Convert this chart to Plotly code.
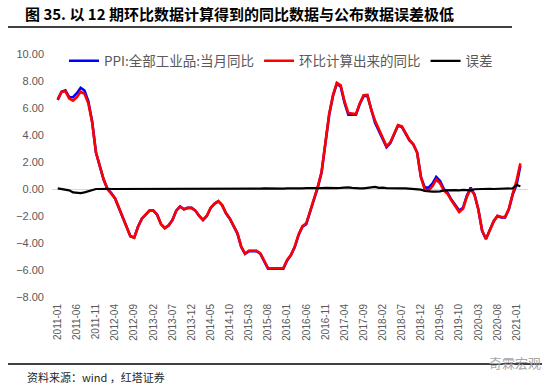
import plotly.graph_objects as go
import pandas as pd

# ---- data ----
months = [d.strftime("%Y-%m") for d in pd.date_range("2011-01-01", "2021-02-01", freq="MS")]

ppi_yoy = [
    6.6, 7.2, 7.3, 6.8, 6.8, 7.1, 7.5, 7.3, 6.5, 5.0, 2.7, 1.7,
    0.7, 0.0, -0.3, -0.7, -1.4, -2.1, -2.9, -3.5, -3.6, -2.8, -2.2, -1.9,
    -1.6, -1.6, -1.9, -2.6, -2.9, -2.7, -2.3, -1.6, -1.3, -1.5, -1.4, -1.4,
    -1.6, -2.0, -2.3, -2.0, -1.4, -1.1, -0.9, -1.2, -1.8, -2.2, -2.7, -3.3,
    -4.3, -4.8, -4.6, -4.6, -4.6, -4.8, -5.4, -5.9, -5.9, -5.9, -5.9, -5.9,
    -5.3, -4.9, -4.3, -3.4, -2.8, -2.6, -1.7, -0.8, 0.1, 1.2, 3.3, 5.5,
    6.9, 7.8, 7.6, 6.4, 5.5, 5.5, 5.5, 6.3, 6.9, 6.9, 5.8, 4.9,
    4.3, 3.7, 3.1, 3.4, 4.1, 4.7, 4.6, 4.1, 3.6, 3.3, 2.7, 0.9,
    0.1, 0.1, 0.4, 0.9, 0.6, 0.0, -0.3, -0.8, -1.2, -1.6, -1.4, -0.5,
    0.1, -0.4, -1.5, -3.1, -3.7, -3.0, -2.4, -2.0, -2.1, -2.1, -1.5, -0.4,
    0.3, 1.7,
]

calc_yoy = [
    6.65, 7.2, 7.25, 6.7, 6.55, 6.8, 7.2, 7.05, 6.35, 4.95, 2.7, 1.7,
    0.72, 0.02, -0.3, -0.7, -1.39, -2.1, -2.9, -3.5, -3.62, -2.8, -2.2, -1.89,
    -1.6, -1.59, -1.9, -2.6, -2.9, -2.69, -2.3, -1.6, -1.29, -1.5, -1.4, -1.4,
    -1.6, -1.99, -2.28, -1.98, -1.39, -1.09, -0.9, -1.19, -1.78, -2.18, -2.67, -3.27,
    -4.27, -4.78, -4.57, -4.57, -4.58, -4.77, -5.36, -5.87, -5.88, -5.88, -5.87, -5.87,
    -5.26, -4.87, -4.27, -3.36, -2.75, -2.54, -1.65, -0.76, 0.15, 1.26, 3.38, 5.56,
    6.95, 7.87, 7.68, 6.5, 5.62, 5.58, 5.55, 6.34, 6.95, 6.97, 5.88, 5.05,
    4.38, 3.8, 3.16, 3.47, 4.15, 4.74, 4.65, 4.14, 3.63, 3.32, 2.7, 0.85,
    -0.05, -0.1, 0.2, 0.7, 0.42, -0.1, -0.38, -0.85, -1.28, -1.7, -1.46, -0.58,
    0.0, -0.42, -1.5, -3.09, -3.7, -2.98, -2.4, -1.98, -2.07, -2.08, -1.47, -0.35,
    0.6, 1.9,
]

error = [
    0.05, 0.0, -0.05, -0.1, -0.25, -0.3, -0.3, -0.25, -0.15, -0.05, 0.0, 0.0,
    0.02, 0.02, 0.0, 0.0, 0.01, 0.0, 0.0, 0.0, -0.02, 0.0, 0.0, 0.01,
    0.0, 0.01, 0.0, 0.0, 0.0, 0.01, 0.0, 0.0, 0.01, 0.0, 0.0, 0.0,
    0.0, 0.01, 0.02, 0.02, 0.01, 0.01, 0.0, 0.01, 0.02, 0.02, 0.03, 0.03,
    0.03, 0.02, 0.03, 0.03, 0.02, 0.03, 0.04, 0.03, 0.02, 0.02, 0.03, 0.03,
    0.04, 0.03, 0.03, 0.04, 0.05, 0.06, 0.05, 0.04, 0.05, 0.06, 0.08, 0.06,
    0.05, 0.07, 0.08, 0.1, 0.12, 0.08, 0.05, 0.04, 0.05, 0.07, 0.08, 0.15,
    0.08, 0.1, 0.06, 0.07, 0.05, 0.04, 0.05, 0.04, 0.03, 0.02, 0.0, -0.05,
    -0.15, -0.2, -0.2, -0.2, -0.18, -0.1, -0.08, -0.05, -0.08, -0.1, -0.06, -0.08,
    -0.1, -0.02, 0.0, 0.01, 0.0, 0.02, 0.0, 0.02, 0.03, 0.02, 0.03, 0.05,
    0.3, 0.2,
]

tick_labels = [
    "2011-01", "2011-06", "2011-11", "2012-04", "2012-09", "2013-02", "2013-07",
    "2013-12", "2014-05", "2014-10", "2015-03", "2015-08", "2016-01", "2016-06",
    "2016-11", "2017-04", "2017-09", "2018-02", "2018-07", "2018-12", "2019-05",
    "2019-10", "2020-03", "2020-08", "2021-01",
]

series_names = ["PPI:全部工业品:当月同比", "环比计算出来的同比", "误差"]

CJK = "Noto Sans CJK SC"
GRAY = "#595959"

fig = go.Figure()
fig.add_trace(go.Scatter(x=months, y=ppi_yoy, name=series_names[0], mode="lines",
                         line=dict(color="#0000ff", width=2.6)))
fig.add_trace(go.Scatter(x=months, y=calc_yoy, name=series_names[1], mode="lines",
                         line=dict(color="#ff0000", width=2.6)))
fig.add_trace(go.Scatter(x=months, y=error, name=series_names[2], mode="lines",
                         line=dict(color="#000000", width=2.2)))

W, H = 554, 388
L, T = 52, 54
R = W - 528
B = H - 297
pw, ph = W - L - R, H - T - B

def px_x(x):
    return (x - L) / pw

def px_y(y):
    return (H - B - y) / ph

fig.update_layout(
    width=W, height=H,
    margin=dict(l=L, r=R, t=T, b=B),
    paper_bgcolor="white", plot_bgcolor="white",
    font=dict(family=CJK, color=GRAY),
    showlegend=True,
    legend=dict(orientation="h", x=px_x(64), y=px_y(61), xanchor="left", yanchor="middle",
                font=dict(family=CJK, size=13.5, color=GRAY), bgcolor="rgba(0,0,0,0)",
                itemwidth=30, tracegroupgap=0),
    xaxis=dict(type="category", range=[-1.5, 123], tickmode="array",
               tickvals=tick_labels, ticktext=tick_labels, tickangle=-90,
               tickfont=dict(family="Liberation Sans", size=10, color=GRAY),
               ticklabelstandoff=4,
               showgrid=False, showline=False, zeroline=False, ticks=""),
    yaxis=dict(range=[-8, 10], dtick=2, tick0=0, tickformat=".2f",
               tickfont=dict(family="Liberation Sans", size=11, color=GRAY),
               ticklabelstandoff=7,
               showgrid=False, showline=False, zeroline=True,
               zerolinecolor="#d9d9d9", zerolinewidth=1, ticks=""),
    title=dict(text="<b>图 35. 以 12 期环比数据计算得到的同比数据与公布数据误差极低</b>",
               x=25 / W, y=1 - 15 / H, xanchor="left", yanchor="middle",
               xref="container", yref="container",
               font=dict(family=CJK, size=15, color="#000000")),
)

fig.add_shape(type="line", xref="paper", yref="paper",
              x0=px_x(8), x1=px_x(512), y0=px_y(27), y1=px_y(27),
              line=dict(color="#404040", width=2))
fig.add_shape(type="line", xref="paper", yref="paper",
              x0=px_x(8), x1=px_x(542), y0=px_y(364), y1=px_y(364),
              line=dict(color="#404040", width=2))

fig.add_annotation(text="资料来源：wind ，红塔证券", xref="paper", yref="paper",
                   x=px_x(25), y=px_y(377), xanchor="left", yanchor="middle",
                   showarrow=False, font=dict(family=CJK, size=11, color="#262626"))
fig.add_annotation(text="奇霖宏观", xref="paper", yref="paper",
                   x=px_x(487), y=px_y(363), xanchor="left", yanchor="middle",
                   showarrow=False, font=dict(family=CJK, size=13, color="#a6a6a6"))

fig.write_html("out.html", config={"displayModeBar": False},
               post_script="document.body.style.margin='0';")
